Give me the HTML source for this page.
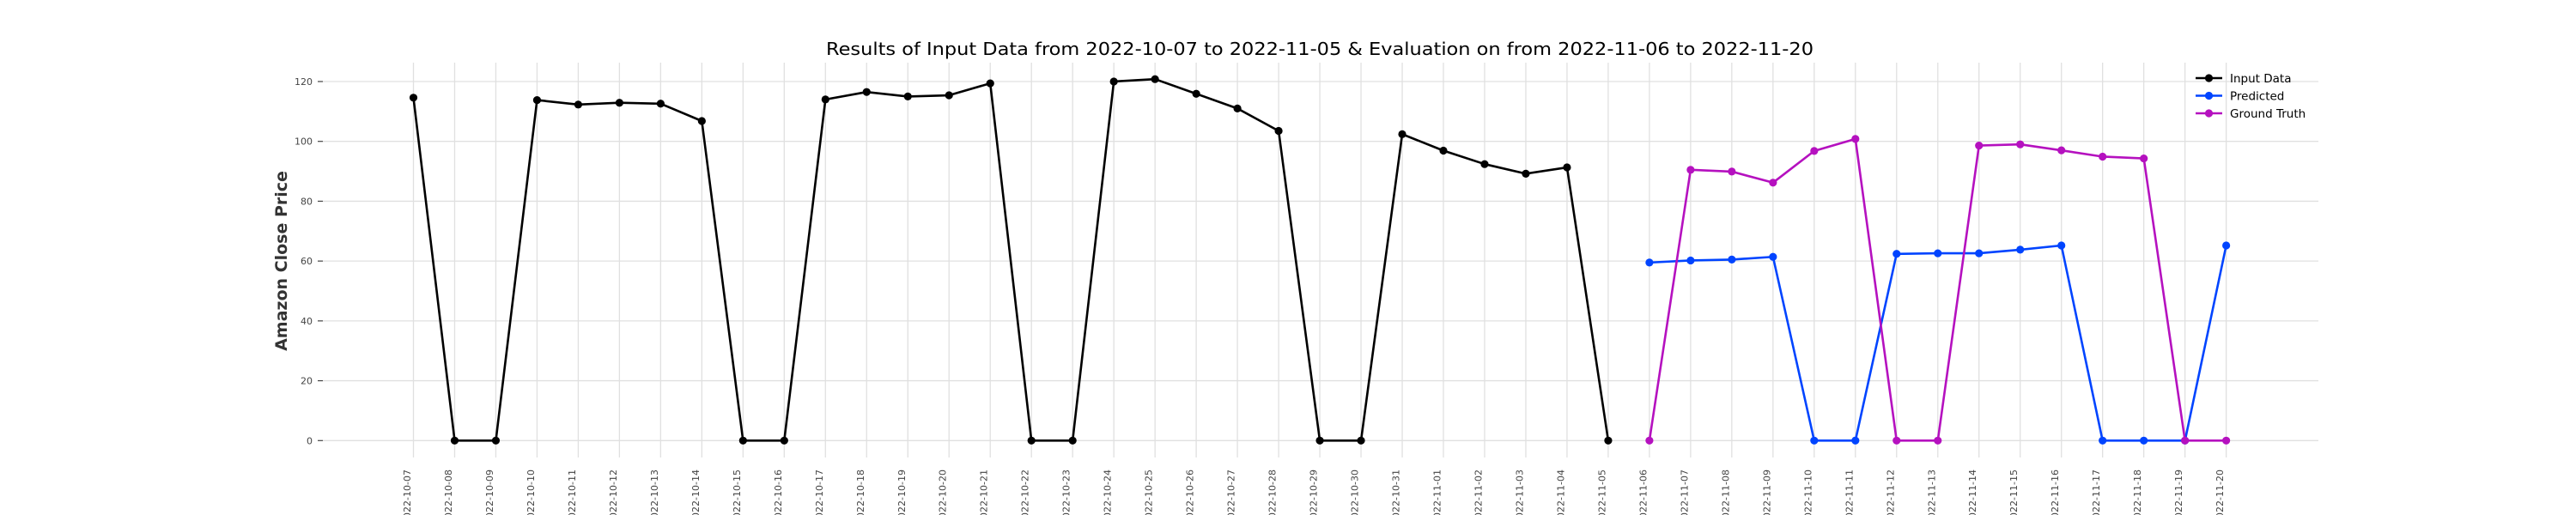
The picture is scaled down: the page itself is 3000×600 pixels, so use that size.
<!DOCTYPE html>
<html><head><meta charset="utf-8"><style>
html,body{margin:0;padding:0;background:#fff;}
svg{display:block;font-family:"DejaVu Sans","Liberation Sans",sans-serif;}
</style></head><body>
<svg id="chart" width="3000" height="600" viewBox="0 0 3000 600" xmlns="http://www.w3.org/2000/svg">
<rect width="3000" height="600" fill="#fff"/>
<text x="1537" y="64" font-size="20" text-anchor="middle" textLength="1150" lengthAdjust="spacingAndGlyphs" fill="#000">Results of Input Data from 2022-10-07 to 2022-11-05 &amp; Evaluation on from 2022-11-06 to 2022-11-20</text>
<text transform="translate(334,304) rotate(-90)" font-size="19" font-weight="bold" text-anchor="middle" fill="#333">Amazon Close Price</text>
<g id="grid"></g>
<g id="yaxis"></g>
<g id="xaxis"></g>
<g id="series"></g>
<g id="legend"></g>
</svg>
<script>
const dates = ["2022-10-07","2022-10-08","2022-10-09","2022-10-10","2022-10-11","2022-10-12","2022-10-13","2022-10-14","2022-10-15","2022-10-16","2022-10-17","2022-10-18","2022-10-19","2022-10-20","2022-10-21","2022-10-22","2022-10-23","2022-10-24","2022-10-25","2022-10-26","2022-10-27","2022-10-28","2022-10-29","2022-10-30","2022-10-31","2022-11-01","2022-11-02","2022-11-03","2022-11-04","2022-11-05","2022-11-06","2022-11-07","2022-11-08","2022-11-09","2022-11-10","2022-11-11","2022-11-12","2022-11-13","2022-11-14","2022-11-15","2022-11-16","2022-11-17","2022-11-18","2022-11-19","2022-11-20"];
const inputDates = dates.slice(0,30);
const evalDates = dates.slice(30);
const inputValues = [114.6,0,0,113.8,112.3,112.9,112.6,106.8,0,0,114,116.5,115,115.4,119.4,0,0,120,120.8,115.9,111,103.5,0,0,102.4,96.9,92.4,89.2,91.3,0];
const predictedValues = [59.5,60.2,60.5,61.4,0,0,62.4,62.6,62.6,63.8,65.2,0,0,0,65.2];
const truthValues = [0,90.5,89.9,86.2,96.8,100.8,0,0,98.6,99.0,97.0,94.9,94.3,0,0];
const yTicks = [0,20,40,60,80,100,120];

const NS="http://www.w3.org/2000/svg";
const X0=481.5, DX=47.98, Y0=513.3, KY=3.486;
function xScale(d){return X0+dates.indexOf(d)*DX;}
function yScale(v){return Y0-v*KY;}
function mk(tag,attrs,parent){const e=document.createElementNS(NS,tag);for(const k in attrs)e.setAttribute(k,attrs[k]);parent.appendChild(e);return e;}
const grid=document.getElementById('grid'), yaxis=document.getElementById('yaxis'), xaxis=document.getElementById('xaxis'), series=document.getElementById('series'), legend=document.getElementById('legend');

yTicks.forEach(t=>{
  const y=yScale(t);
  const g=mk('line',{x1:376,x2:2700,y1:y,y2:y,stroke:'#e0e0e0','stroke-width':1.3},grid);
  
  
  const tk=mk('line',{x1:370,x2:376,y1:y,y2:y,stroke:'#444','stroke-width':1.2},yaxis);
  
  
  const tx=mk('text',{x:364,y:y+4,'font-size':11,'text-anchor':'end',fill:'#444'},yaxis);
  tx.textContent=t;
  
  
});
dates.forEach(d=>{
  const x=xScale(d);
  const g=mk('line',{x1:x,x2:x,y1:73,y2:533,stroke:'#e0e0e0','stroke-width':1.3},grid);
  
  
  const tx=mk('text',{transform:`translate(${x-3.5},547) rotate(-90)`,'font-size':11,'text-anchor':'end',fill:'#444'},xaxis);
  tx.textContent=d;
  
  
});

function drawSeries(ds,vals,color,name){
  const g=mk('g',{},series);
  
  
  const pts=ds.map((d,i)=>xScale(d)+','+yScale(vals[i])).join(' ');
  const pl=mk('polyline',{points:pts,fill:'none',stroke:color,'stroke-width':2.6,'stroke-linejoin':'round'},g);
  
  
  ds.forEach((d,i)=>{
    const c=mk('circle',{cx:xScale(d),cy:yScale(vals[i]),r:4.6,fill:color},g);
    
    
  });
}
drawSeries(inputDates,inputValues,'#000000','input-data-series');
drawSeries(evalDates,predictedValues,'#0044ff','predicted-series');
drawSeries(evalDates,truthValues,'#b511bf','ground-truth-series');

const legendItems=[['Input Data','#000000'],['Predicted','#0044ff'],['Ground Truth','#b511bf']];
legendItems.forEach((it,i)=>{
  const y=91+i*20.5;
  const g=mk('g',{},legend);
  
  
  mk('line',{x1:2557,x2:2588,y1:y,y2:y,stroke:it[1],'stroke-width':2.6},g);
  mk('circle',{cx:2572.5,cy:y,r:4.6,fill:it[1]},g);
  const t=mk('text',{x:2597,y:y+5,'font-size':13.5,fill:'#000'},g);
  t.textContent=it[0];
});
</script>
</body></html>
